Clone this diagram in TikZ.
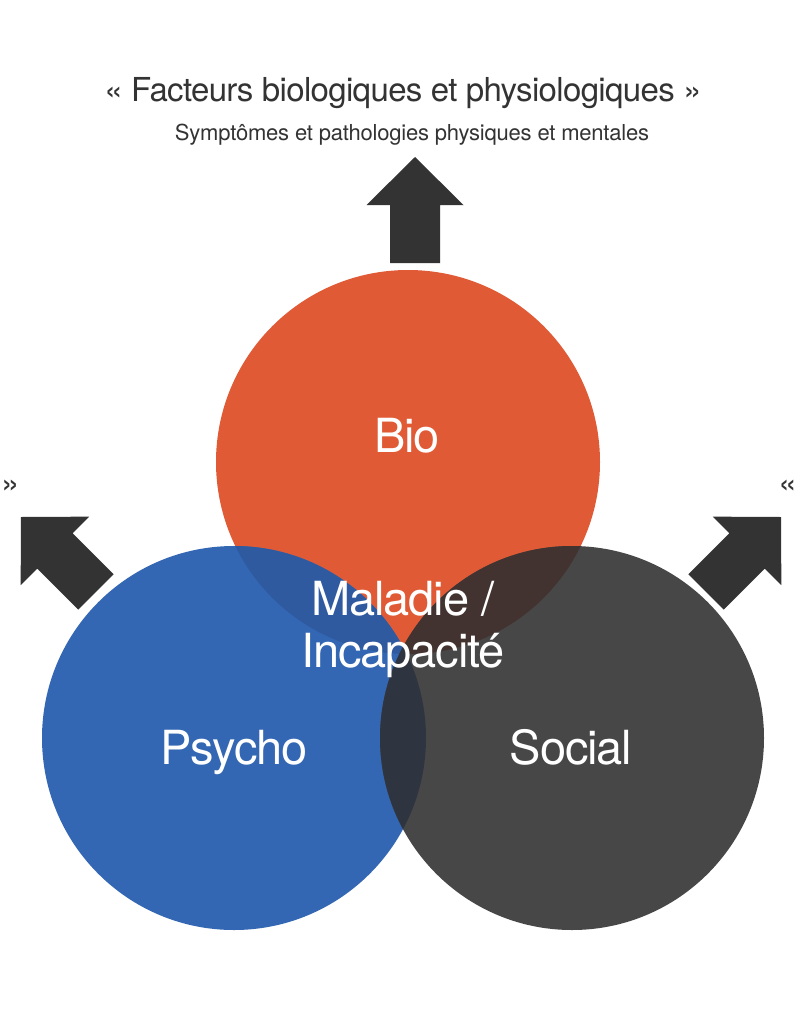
\documentclass[tikz,border=0pt]{standalone}
\usepackage{fontspec}
\setmainfont{TeX Gyre Heros}
\usepackage{xcolor}
\usetikzlibrary{positioning}
\definecolor{bioorange}{HTML}{E05A35}
\definecolor{psychoblue}{HTML}{3367B3}
\definecolor{socialgray}{HTML}{474747}
\definecolor{biopsycho}{HTML}{2F5AA0}
\definecolor{biosocial}{HTML}{433330}
\definecolor{psychosocial}{HTML}{2F3540}
\definecolor{inkgray}{HTML}{333333}
\tikzset{
    bpscircle/.style={circle, minimum size=384pt, inner sep=0pt},
    bpslabel/.style={text=white, font=\fontsize{47}{52}\selectfont\addfontfeatures{LetterSpace=-2.4}, inner sep=0pt, anchor=base},
    bpstitle/.style={text=inkgray, font=\fontsize{33}{38}\selectfont\addfontfeatures{LetterSpace=-2}, inner sep=0pt, anchor=base},
    bpssub/.style={text=inkgray, font=\fontsize{22}{26}\selectfont\addfontfeatures{LetterSpace=-1}, inner sep=0pt, anchor=base},
    bpsarrow/.pic={
        \fill[inkgray] (0,0) -- (48.5,48) -- (25,48) -- (25,106) -- (-25,106) -- (-25,48) -- (-48.5,48) -- cycle;
    }
}

\begin{document}
\begin{tikzpicture}[x=1pt, y=-1pt]
    \useasboundingbox[fill=white] (0,0) rectangle (800,1015);
    % circles
    \node[bpscircle, fill=bioorange] (bio) at (408,462) {};
    \node[bpscircle, fill=psychoblue] (psycho) at (234,738) {};
    \node[bpscircle, fill=socialgray] (social) at (572,738) {};
    % overlaps
    \begin{scope}
        \clip (bio.center) circle (192pt);
        \fill[biopsycho] (psycho.center) circle (192pt);
        \fill[biosocial] (social.center) circle (192pt);
    \end{scope}
    \begin{scope}
        \clip (psycho.center) circle (192pt);
        \fill[psychosocial] (social.center) circle (192pt);
    \end{scope}
    % arrows
    \pic at (415,157) {bpsarrow};
    \pic[rotate=45] at (21,517) {bpsarrow};
    \pic[rotate=-45] at (781,517) {bpsarrow};
    % texts
    \node[bpstitle] (title) at (403,101) {« Facteurs biologiques et physiologiques »};
    \node[bpssub] (subtitle) at (412,140) {Symptômes et pathologies physiques et mentales};
    \node[bpstitle, anchor=base west] (leftquote) at (1,494) {»};
    \node[bpstitle, anchor=base east] (rightquote) at (797,494) {«};
    \node[bpslabel] (biolabel) at (407,452) {Bio};
    \node[bpslabel] (psycholabel) at (234,764) {Psycho};
    \node[bpslabel] (sociallabel) at (571,764) {Social};
    \node[bpslabel, anchor=center, align=center] (centerlabel) at (403,629) {Maladie /\\Incapacité};
\end{tikzpicture}
\end{document}
